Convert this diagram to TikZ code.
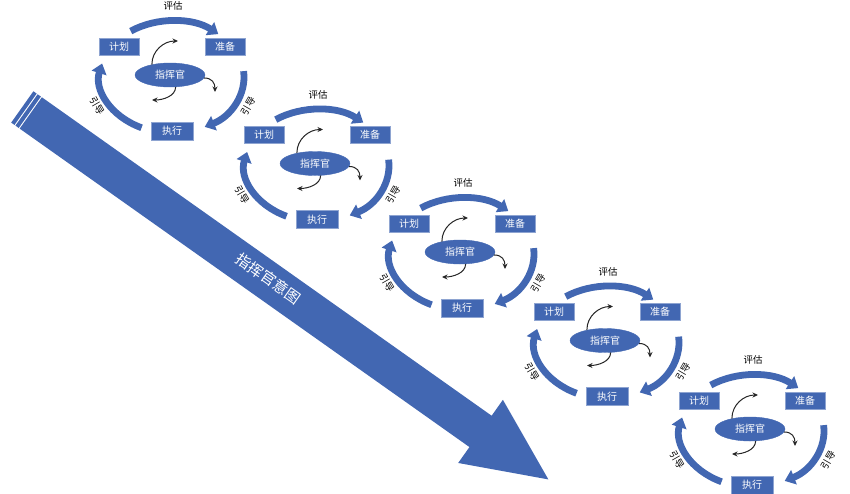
\documentclass[tikz,border=0pt]{standalone}
\usepackage{fontspec}
\setmainfont{Noto Sans CJK SC}
\usetikzlibrary{arrows.meta,shapes.geometric}
\definecolor{blueA}{RGB}{66,103,178}

\begin{document}
\begin{tikzpicture}[x=1pt,y=-1pt,
	box/.style={rectangle, draw=blueA!60!white, line width=0.6pt, fill=blueA, text=white, minimum width=40pt, minimum height=17pt, inner sep=0pt, font=\fontsize{10}{12}\selectfont},
	cmdnode/.style={ellipse, draw=blueA, fill=blueA, text=white, minimum width=70pt, minimum height=24pt, inner sep=0pt, font=\fontsize{10}{12}\selectfont},
	lbl/.style={inner sep=0pt, font=\fontsize{9.5}{11}\selectfont},
	cyc/.style={draw=blueA, line width=6.8pt, -{Triangle[length=10pt,width=15pt]}},
	turn/.style={draw=black!85, line width=1pt, -{Stealth[length=5.5pt,width=5pt]}}]
	\useasboundingbox (0,0) rectangle (850,493);

	% big arrow
	\begin{scope}[rotate=-35.3]
		\fill[blueA] (80,55.2) rectangle (84,93.6);
		\fill[blueA] (85.2,55.2) rectangle (89.2,93.6);
		\fill[blueA] (90.4,55.2) -- (641.5,55.2) -- (641.5,35.7) -- (724.6,74.4) -- (641.5,113.1) -- (641.5,93.6) -- (90.4,93.6) -- cycle;
		\node at (380,72) [rotate=-35.3, text=white, font=\fontsize{15}{17}\selectfont] (intent) {指挥官意图};
	\end{scope}

	% five cycles
	\foreach \i in {0,...,4}{
	\begin{scope}[shift={(145*\i,88.5*\i)}]
		\coordinate (o\i) at (172,77);
		\node at (119,46.5) [box] (plan\i) {计划};
		\node at (225,46.5) [box] (prep\i) {准备};
		\node at (172,131) [box, minimum width=42pt, minimum height=18pt] (exec\i) {执行};
		\node at (170,75) [cmdnode] (cmd\i) {指挥官};
		\node at (173,6) [lbl] (top\i) {评估};
		\node at (97,106) [lbl, rotate=-60] (left\i) {引导};
		\node at (248,106) [lbl, rotate=60] (right\i) {引导};
		\coordinate (a\i) at (178,41);
		\coordinate (b\i) at (215,92);
		\coordinate (c\i) at (152,100);

		\draw [cyc] (o\i) ++(-125:72 and 56) arc[start angle=-125, end angle=-50, x radius=72, y radius=56];
		\draw [cyc] (o\i) ++(-6:72 and 56) arc[start angle=-6, end angle=63, x radius=72, y radius=56];
		\draw [cyc] (o\i) ++(115:72 and 56) arc[start angle=115, end angle=194, x radius=72, y radius=56];
		\draw [turn] (cmd\i.150) .. controls +(0,-14) and +(-14,0) .. (a\i);
		\draw [turn] (cmd\i.-5) .. controls +(8,0) and +(0,-9) .. (b\i);
		\draw [turn] (cmd\i.-65) .. controls +(0,9) and +(11,0) .. (c\i);
	\end{scope}
	}
\end{tikzpicture}
\end{document}
